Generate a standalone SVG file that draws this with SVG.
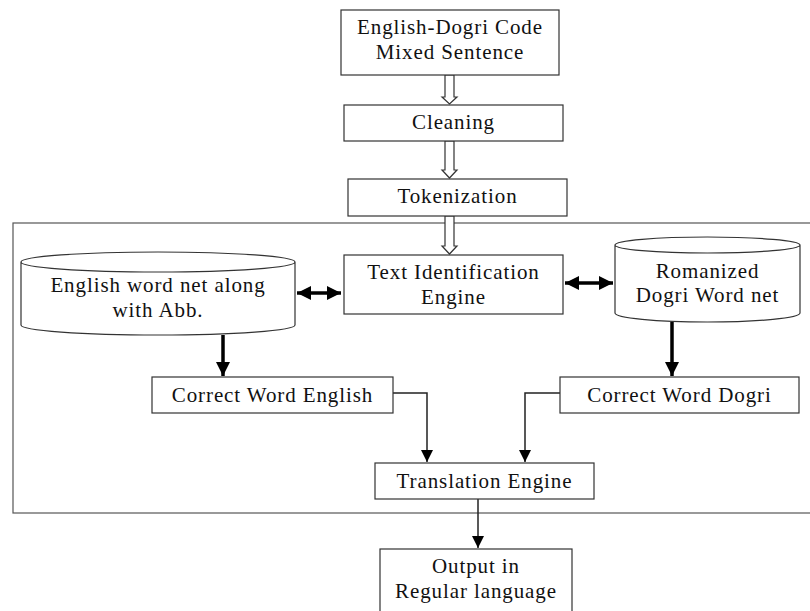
<svg xmlns="http://www.w3.org/2000/svg" width="810" height="611" viewBox="0 0 810 611">
<defs>
<style>
.box{fill:#fff;stroke:#333;stroke-width:1.2}
.t{font-family:"Liberation Serif","Times New Roman",serif;font-size:21px;letter-spacing:0.9px;fill:#111;text-anchor:middle}
.hollow{fill:#fff;stroke:#333;stroke-width:1.2;stroke-linejoin:miter}
.thick{stroke:#000;stroke-width:3.5;fill:none}
.thin{stroke:#222;stroke-width:1.5;fill:none}
</style>
<marker id="ah" viewBox="0 0 10 10" refX="10" refY="5" markerWidth="4" markerHeight="4" orient="auto-start-reverse" markerUnits="strokeWidth"><path d="M0,0 L10,5 L0,10 z" fill="#000"/></marker>
<marker id="ahs" viewBox="0 0 10 10" refX="10" refY="5" markerWidth="8" markerHeight="8" orient="auto" markerUnits="strokeWidth"><path d="M0,0 L10,5 L0,10 z" fill="#000"/></marker>
</defs>
<rect x="13" y="223" width="800" height="290" fill="none" stroke="#555" stroke-width="1.2"/>
<g id="connectors">
<polygon class="hollow" points="445,75 454,75 454,97 457,97 449.5,104 442,97 445,97"/>
<polygon class="hollow" points="445,141 454,141 454,170 457,170 449.5,178 442,170 445,170"/>
<polygon class="hollow" points="445,216 454,216 454,246 457,246 449.5,254 442,246 445,246"/>
<line class="thick" x1="297" y1="293" x2="341" y2="293" marker-start="url(#ah)" marker-end="url(#ah)"/>
<line class="thick" x1="565" y1="283" x2="613" y2="283" marker-start="url(#ah)" marker-end="url(#ah)"/>
<line class="thick" x1="223" y1="335" x2="223" y2="376" marker-end="url(#ah)"/>
<line class="thick" x1="672" y1="322" x2="672" y2="376" marker-end="url(#ah)"/>
<polyline class="thin" points="393,393 427,393 427,462" marker-end="url(#ahs)"/>
<polyline class="thin" points="560,393 525,393 525,462" marker-end="url(#ahs)"/>
<line class="thin" x1="478" y1="499" x2="478" y2="548" marker-end="url(#ahs)"/>
</g>
<g id="input">
<rect class="box" x="341" y="10" width="218" height="65"/>
<text class="t" x="450" y="34">English-Dogri Code</text>
<text class="t" x="450" y="59">Mixed Sentence</text>
</g>
<g id="cleaning">
<rect class="box" x="344" y="105" width="219" height="36"/>
<text class="t" x="453.5" y="129">Cleaning</text>
</g>
<g id="tokenization">
<rect class="box" x="348" y="179" width="219" height="37"/>
<text class="t" x="457.5" y="203">Tokenization</text>
</g>
<g id="text-identification">
<rect class="box" x="344" y="255" width="219" height="59"/>
<text class="t" x="453.5" y="279">Text Identification</text>
<text class="t" x="453.5" y="304">Engine</text>
</g>
<g id="english-wordnet">
<path class="box" d="M21,262 L21,325 A137,10 0 0 0 295,325 L295,262 A137,10 0 0 0 21,262 A137,10 0 0 0 295,262"/>
<text class="t" x="158" y="292">English word net along</text>
<text class="t" x="158" y="317">with Abb.</text>
</g>
<g id="dogri-wordnet">
<path class="box" d="M615,245 L615,313 A92.5,9 0 0 0 800,313 L800,245 A92.5,8 0 0 0 615,245 A92.5,8 0 0 0 800,245"/>
<text class="t" x="707.5" y="278">Romanized</text>
<text class="t" x="707.5" y="302">Dogri Word net</text>
</g>
<g id="correct-english">
<rect class="box" x="152" y="377" width="241" height="36"/>
<text class="t" x="272.5" y="402">Correct Word English</text>
</g>
<g id="correct-dogri">
<rect class="box" x="560" y="377" width="239" height="36"/>
<text class="t" x="679.5" y="402">Correct Word Dogri</text>
</g>
<g id="translation">
<rect class="box" x="375" y="463" width="219" height="36"/>
<text class="t" x="484.5" y="488">Translation Engine</text>
</g>
<g id="output">
<rect class="box" x="380" y="549" width="192" height="70"/>
<text class="t" x="476" y="573">Output in</text>
<text class="t" x="476" y="598">Regular language</text>
</g>
</svg>
